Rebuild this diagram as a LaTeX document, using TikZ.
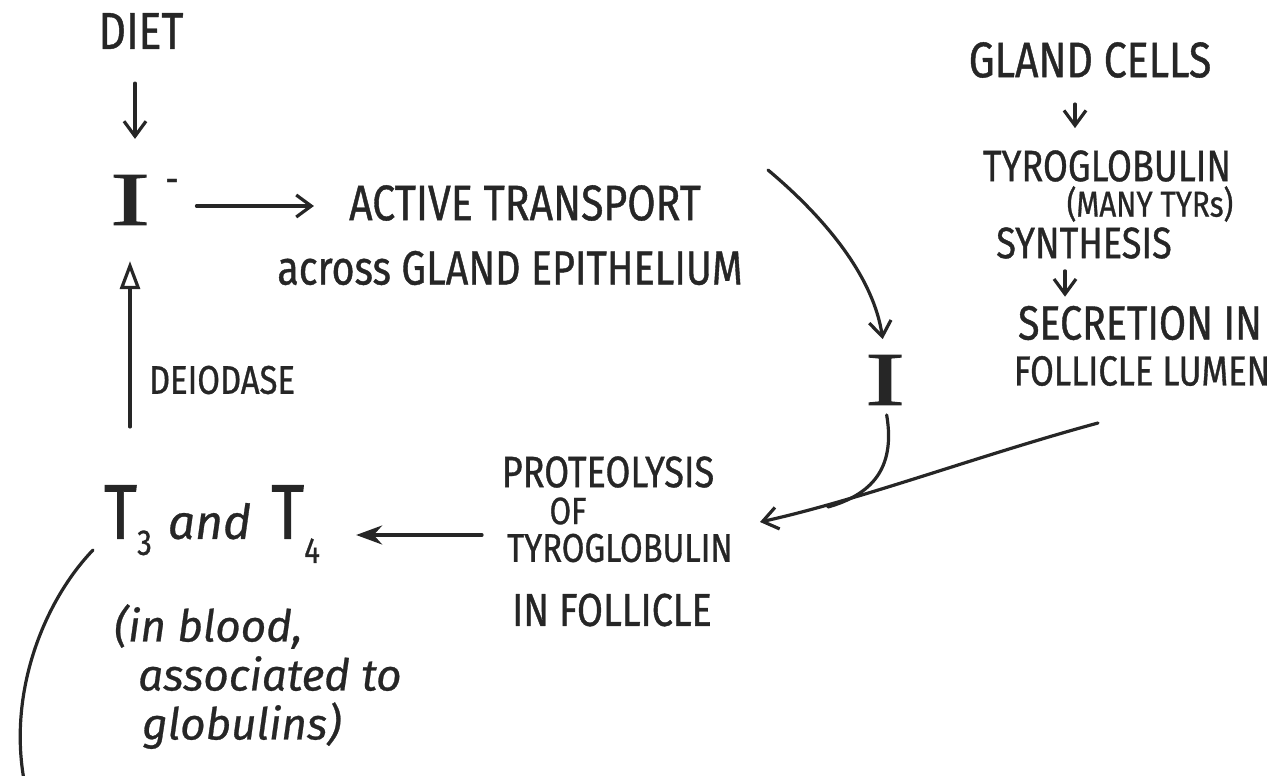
\documentclass[tikz,border=0pt]{standalone}
\usepackage{fontspec}
\setmainfont{Fira Sans}[FakeStretch=0.82, FakeBold=0.8]
\newfontfamily\cursiveface{Fira Sans}[FakeBold=0.6]
\newfontfamily\serifface{Liberation Serif}[FakeStretch=1.6, FakeBold=1.5]
\usetikzlibrary{arrows.meta}
\definecolor{ink}{HTML}{262626}
\begin{document}
\begin{tikzpicture}[x=1pt, y=-1pt,
  every node/.style={inner sep=0pt, text=ink},
  hand/.style={font=\fontsize{#1}{#1}\selectfont},
  hand/.default=44,
  bigI/.style={font=\fontsize{76}{76}\selectfont\serifface},
  cursive/.style={font=\fontsize{44}{49}\selectfont\cursiveface\itshape, align=left},
  pen/.style={draw=ink, line width=3.2pt, line cap=round, line join=round},
  vee/.style={pen, -{Straight Barb[length=15pt, width=22pt]}},
  fat/.style={pen, -{Stealth[length=26pt, width=19pt]}},
  tri/.style={pen, -{Triangle[open, length=28pt, width=20pt]}}]
\useasboundingbox (0,0) rectangle (1274,776);

% left column
\node[hand=52] (diet) at (141,31) {DIET};
\node[bigI] (im) at (130,200) {I};
\node[hand=40] (minus) at (172,186) {-};
\node[hand=40] (deio) at (222,380) {DEIODASE};
\node (t34) at (212,524) {{\fontsize{78}{78}\selectfont T}\raisebox{-16pt}{\fontsize{36}{36}\selectfont 3}\hspace{16pt}{\fontsize{48}{48}\selectfont\cursiveface\itshape and}\hspace{20pt}{\fontsize{78}{78}\selectfont T}\raisebox{-24pt}{\fontsize{36}{36}\selectfont 4}};
\node[cursive, anchor=north west] (blood) at (114,604) {(in blood,\\\hspace*{24pt}associated to\\\hspace*{28pt}globulins)};

% transport across the epithelium
\node[hand=50] (act1) at (525,203) {ACTIVE TRANSPORT};
\node[hand=48] (act2) at (510,268) {across GLAND EPITHELIUM};
\node[bigI] (ii) at (885,380) {I};

% gland cell column
\node[hand=50] (gland) at (1090,60) {GLAND CELLS};
\node[hand=44] (tyro) at (1107,166) {TYROGLOBULIN};
\node[hand=36] (many) at (1150,204) {(MANY TYRs)};
\node[hand=44] (synth) at (1084,243) {SYNTHESIS};
\node[hand=48] (secr) at (1140,323) {SECRETION IN};
\node[hand=42] (lumen) at (1142,371) {FOLLICLE LUMEN};

% proteolysis block
\node[hand=44] (prot) at (608,472) {PROTEOLYSIS};
\node[hand=38] (pof) at (568,511) {OF};
\node[hand=40] (ptyro) at (620,548) {TYROGLOBULIN};
\node[hand=46] (pfol) at (612,610) {IN FOLLICLE};

% free ends of the curved connectors
\coordinate (a1) at (768,170);
\coordinate (s1) at (1098,423);
\coordinate (j) at (828,507);
\coordinate (ptip) at (760,522);
\coordinate (c0) at (93,550);
\coordinate (c1) at (24,780);

% connectors
\draw[vee, shorten <=34pt, shorten >=36pt] ([xshift=5pt]im.north |- diet.south) -- ([xshift=5pt]im.north);
\draw[vee, shorten <=46pt, shorten >=35pt] ([yshift=-6pt]im.east) -- ([yshift=-6pt]im.east -| act1.west);
\draw[vee, shorten >=16pt] (a1) .. controls (830,222) and (874,280) .. (ii.north);
\draw[pen, shorten <=10pt] (ii.south) .. controls (896,470) and (870,495) .. (j);
\draw[vee] (s1) .. controls (980,455) and (860,500) .. (ptip);
\draw[vee, shorten <=26pt, shorten >=22pt] ([xshift=-15pt]gland.south) -- ([xshift=-15pt]gland.south |- tyro.north);
\draw[vee, shorten <=12pt, shorten >=9pt] ([xshift=-19pt]synth.south) -- ([xshift=-19pt]synth.south |- secr.north);
\draw[fat, shorten <=25pt, shorten >=36pt] ([yshift=13pt]ptyro.west) -- ([yshift=13pt]ptyro.west -| t34.east);
\draw[tri, shorten <=58pt, shorten >=36pt] (im.south |- t34.north) -- (im.south);
\draw[pen] (c0) .. controls (45,600) and (8,690) .. (c1);
\end{tikzpicture}
\end{document}
